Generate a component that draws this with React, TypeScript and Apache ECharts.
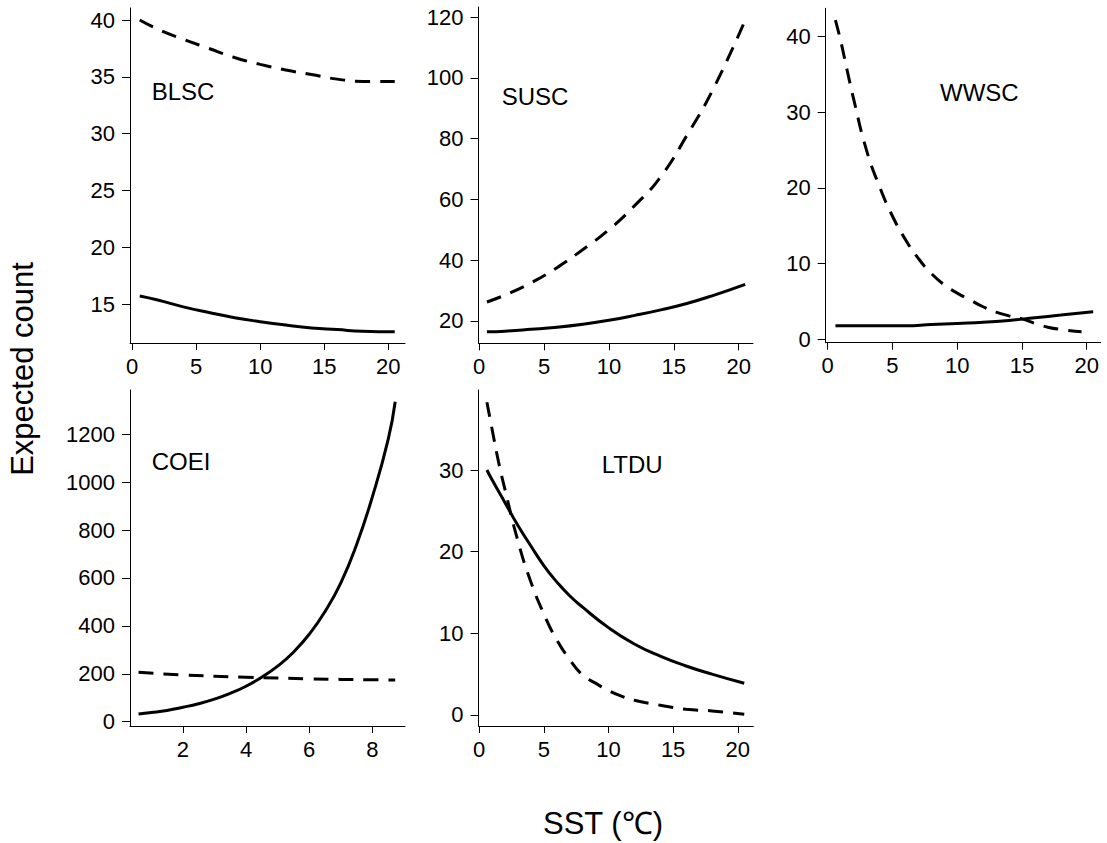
import React, { useEffect, useRef } from "react";
import * as echarts from "echarts";

// ---- data ----
const sst = [0.6, 2, 4, 6, 8, 10, 12, 14, 16, 18, 20.5];

const blscSolid = [15.7, 15.35, 14.75, 14.25, 13.8, 13.45, 13.15, 12.9, 12.75, 12.6, 12.55];
const blscDashed = [40, 39.2, 38.3, 37.5, 36.7, 36.1, 35.6, 35.2, 34.8, 34.6, 34.6];

const suscSolid = [16.4, 16.6, 17.2, 17.9, 18.9, 20.2, 21.8, 23.6, 25.7, 28.3, 32];
const suscDashed = [26.2, 28.5, 32.5, 37.5, 43.5, 50, 58, 67.5, 81, 96, 119];

const wwscSolid = [1.8, 1.8, 1.8, 1.8, 1.95, 2.1, 2.25, 2.5, 2.85, 3.2, 3.65];
const wwscDashedX = [0.6, 1, 1.5, 2, 3, 4, 5, 6, 7, 8, 9, 10, 11, 12, 13, 14, 15, 16, 17, 18, 19.6];
const wwscDashed = [42.2, 39.5, 35.6, 31.8, 25, 20.2, 16.3, 13.2, 10.7, 8.7, 7.2, 6.1, 5.2, 4.3, 3.6, 3.1, 2.7, 2.1, 1.6, 1.3, 1.0];

const coeiX = [0.6, 1, 1.5, 2, 2.5, 3, 3.5, 4, 4.5, 5, 5.5, 6, 6.5, 7, 7.5, 8, 8.5, 8.72];
const coeiSolid = [32, 38, 47, 60, 75, 94, 118, 148, 186, 232, 290, 365, 460, 580, 740, 940, 1180, 1336];
const coeiDashedX = [0.6, 2, 4, 6, 8, 8.72];
const coeiDashed = [206, 195, 186, 179, 175, 174];

const ltduSolidX = [0.6, 1, 2, 3, 4, 5, 6, 7, 8, 10, 12, 14, 16, 18, 20.5];
const ltduSolid = [30, 28.8, 26, 23.2, 20.7, 18.3, 16.3, 14.6, 13.2, 10.7, 8.7, 7.2, 6.0, 5.0, 3.88];
const ltduDashedX = [0.6, 1, 1.5, 2, 3, 4, 5, 6, 7, 8, 9, 10, 11, 12, 14, 16, 18, 20.5];
const ltduDashed = [38.3, 35, 31, 27.6, 21.3, 16.3, 12.4, 9.2, 6.8, 4.9, 3.9, 3.0, 2.3, 1.8, 1.2, 0.7, 0.5, 0.1];

const sstTicks = [0, 5, 10, 15, 20];
const coeiXTicks = [2, 4, 6, 8];
const blscYTicks = [15, 20, 25, 30, 35, 40];
const suscYTicks = [20, 40, 60, 80, 100, 120];
const wwscYTicks = [0, 10, 20, 30, 40];
const coeiYTicks = [0, 200, 400, 600, 800, 1000, 1200];
const ltduYTicks = [0, 10, 20, 30];

const speciesLabels = ["BLSC", "SUSC", "WWSC", "COEI", "LTDU"];
const yTitle = "Expected count";
const xTitle = "SST (℃)";

const FONT = "'Liberation Sans', Arial, sans-serif";

const zip = (xs: number[], ys: number[]) => xs.map((x, i) => [x, ys[i]]);

const panels = [
  { grid: { left: 130, top: 8, width: 275, height: 335 }, x: [-0.16, 21.3], y: [11.57, 41.06], xt: sstTicks, yt: blscYTicks,
    solid: zip(sst, blscSolid), dashed: zip(sst, blscDashed), label: [151.7, 91] },
  { grid: { left: 478.5, top: 7, width: 274.5, height: 336.3 }, x: [-0.05, 21.1], y: [12.6, 123.3], xt: sstTicks, yt: suscYTicks,
    solid: zip(sst, suscSolid), dashed: zip(sst, suscDashed), label: [501.7, 96] },
  { grid: { left: 825.7, top: 8.3, width: 275, height: 334.4 }, x: [-0.15, 21.08], y: [-0.45, 43.75], xt: sstTicks, yt: wwscYTicks,
    solid: zip(sst, wwscSolid), dashed: zip(wwscDashedX, wwscDashed), label: [940, 92] },
  { grid: { left: 130, top: 390, width: 275, height: 336 }, x: [0.33, 9.03], y: [-18, 1385], xt: coeiXTicks, yt: coeiYTicks,
    solid: zip(coeiX, coeiSolid), dashed: zip(coeiDashedX, coeiDashed), label: [151.7, 461] },
  { grid: { left: 478.5, top: 390, width: 274.8, height: 336 }, x: [-0.05, 21.2], y: [-1.35, 39.8], xt: sstTicks, yt: ltduYTicks,
    solid: zip(ltduSolidX, ltduSolid), dashed: zip(ltduDashedX, ltduDashed), label: [601.7, 464.7] },
];

export default function App() {
  const ref = useRef<HTMLDivElement>(null);
  useEffect(() => {
    if (!ref.current) return;
    const chart = echarts.init(ref.current, undefined, { renderer: "svg" });
    const axisCommon = {
      axisLine: { show: true, onZero: false, lineStyle: { color: "#000", width: 1 } },
      splitLine: { show: false },
    };
    const fmt = (v: number) => String(Math.round(v));
    const option: any = {
      animation: false,
      backgroundColor: "#fff",
      textStyle: { fontFamily: FONT },
      grid: panels.map((p) => ({ ...p.grid, containLabel: false })),
      xAxis: panels.map((p, i) => ({
        type: "value",
        gridIndex: i,
        min: p.x[0],
        max: p.x[1],
        ...axisCommon,
        axisTick: { show: true, length: 7, inside: false, customValues: p.xt, lineStyle: { color: "#000" } },
        axisLabel: { show: true, customValues: p.xt, formatter: fmt, margin: 12, fontSize: 22, color: "#000", fontFamily: FONT },
      })),
      yAxis: panels.map((p, i) => ({
        type: "value",
        gridIndex: i,
        min: p.y[0],
        max: p.y[1],
        ...axisCommon,
        axisTick: { show: true, length: 8, inside: false, customValues: p.yt, lineStyle: { color: "#000" } },
        axisLabel: { show: true, customValues: p.yt, formatter: fmt, margin: 15, fontSize: 22, color: "#000", fontFamily: FONT },
      })),
      series: panels.flatMap((p, i) => [
        {
          type: "line",
          xAxisIndex: i,
          yAxisIndex: i,
          data: p.solid,
          showSymbol: false,
          symbol: "none",
          smooth: 0.5,
          lineStyle: { color: "#000", width: 3, type: "solid" },
        },
        {
          type: "line",
          xAxisIndex: i,
          yAxisIndex: i,
          data: p.dashed,
          showSymbol: false,
          symbol: "none",
          smooth: 0.5,
          lineStyle: { color: "#000", width: 3, type: [15, 10] },
        },
      ]),
      graphic: [
        ...panels.map((p, i) => ({
          type: "text",
          x: p.label[0],
          y: p.label[1],
          style: {
            text: speciesLabels[i],
            fontSize: 24,
            fontFamily: FONT,
            fill: "#000",
            textAlign: "left",
            textVerticalAlign: "middle",
          },
        })),
        {
          type: "text",
          x: 22,
          y: 369,
          rotation: Math.PI / 2,
          style: {
            text: yTitle,
            fontSize: 31,
            fontFamily: FONT,
            fill: "#000",
            textAlign: "center",
            textVerticalAlign: "middle",
          },
        },
        {
          type: "text",
          x: 603,
          y: 823,
          style: {
            text: xTitle,
            fontSize: 31,
            fontFamily: FONT,
            fill: "#000",
            textAlign: "center",
            textVerticalAlign: "middle",
          },
        },
      ],
    };
    chart.setOption(option);
    return () => chart.dispose();
  }, []);
  return (
    <div
      ref={ref}
      style={{ position: "fixed", left: 0, top: 0, width: 1107, height: 843, background: "#fff" }}
    />
  );
}
